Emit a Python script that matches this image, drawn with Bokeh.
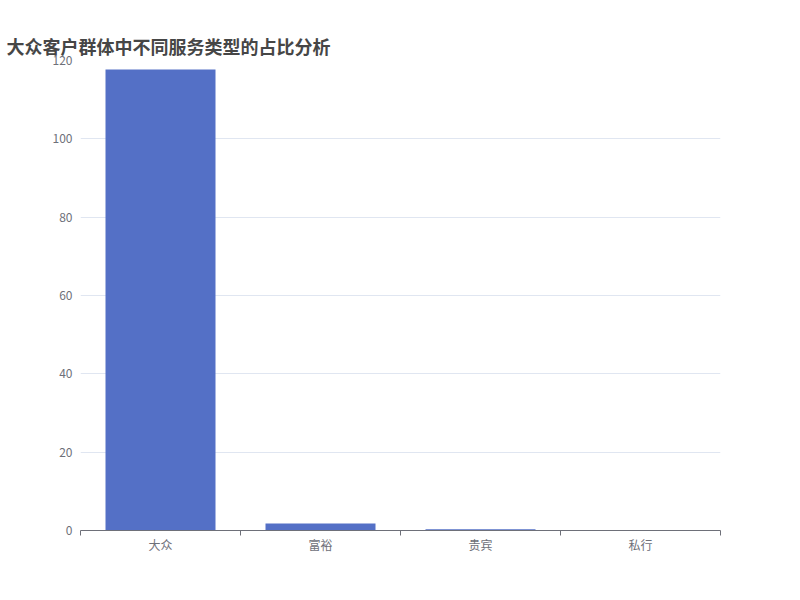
from bokeh.plotting import figure
from bokeh.models import ColumnDataSource, FixedTicker, Range1d, Title
from bokeh.embed import file_html
from bokeh.resources import INLINE

categories = ["大众", "富裕", "贵宾", "私行"]
values = [117.7, 1.8, 0.3, 0.05]
y_ticks = [0, 20, 40, 60, 80, 100, 120]
title_text = "大众客户群体中不同服务类型的占比分析"

FONT = "Noto Sans CJK SC"
xs = [i + 0.5 for i in range(len(categories))]
src = ColumnDataSource(dict(x=xs, top=values, cat=categories))

p = figure(width=784, height=584, output_backend="svg", toolbar_location=None,
           x_range=Range1d(0, len(categories)), y_range=Range1d(0, 120),
           min_border_left=80, min_border_right=64, min_border_top=60,
           min_border_bottom=54, title=" ")
p.outline_line_color = None
p.background_fill_color = "white"
p.border_fill_color = "white"

# spacer title (closest to the frame)
p.title.text_font = FONT
p.title.text_font_size = "18px"
p.title.standoff = 4

# real title (outermost)
p.add_layout(Title(text=title_text, align="left", offset=-74, standoff=0,
                   vertical_align="top", text_font=FONT, text_font_size="18px",
                   text_font_style="bold", text_color="#464646"), "above")

p.vbar(x="x", top="top", width=0.6875, source=src, fill_color="#5470c6", line_color=None)

xa = p.xaxis[0]
xa.ticker = FixedTicker(ticks=xs, minor_ticks=list(range(len(categories) + 1)))
xa.major_label_overrides = {x: c for x, c in zip(xs, categories)}
xa.major_tick_line_color = None
xa.major_tick_out = 0
xa.major_tick_in = 0
xa.minor_tick_line_color = "#6e7079"
xa.minor_tick_out = 5
xa.minor_tick_in = 0
xa.axis_line_color = "#6e7079"
xa.major_label_text_color = "#6e7079"
xa.major_label_text_font = FONT
xa.major_label_text_font_size = "12px"
xa.major_label_standoff = 0

ya = p.yaxis[0]
ya.ticker = FixedTicker(ticks=y_ticks, minor_ticks=[])
ya.axis_line_color = None
ya.major_tick_line_color = None
ya.major_tick_out = 0
ya.major_tick_in = 0
ya.minor_tick_line_color = None
ya.major_label_text_color = "#6e7079"
ya.major_label_text_font = FONT
ya.major_label_text_font_size = "12px"
ya.major_label_standoff = 8

p.xgrid.grid_line_color = None
p.ygrid.grid_line_color = "#e0e6f1"
p.ygrid.ticker = FixedTicker(ticks=y_ticks[1:])

open("out.html", "w").write(file_html(p, INLINE))
